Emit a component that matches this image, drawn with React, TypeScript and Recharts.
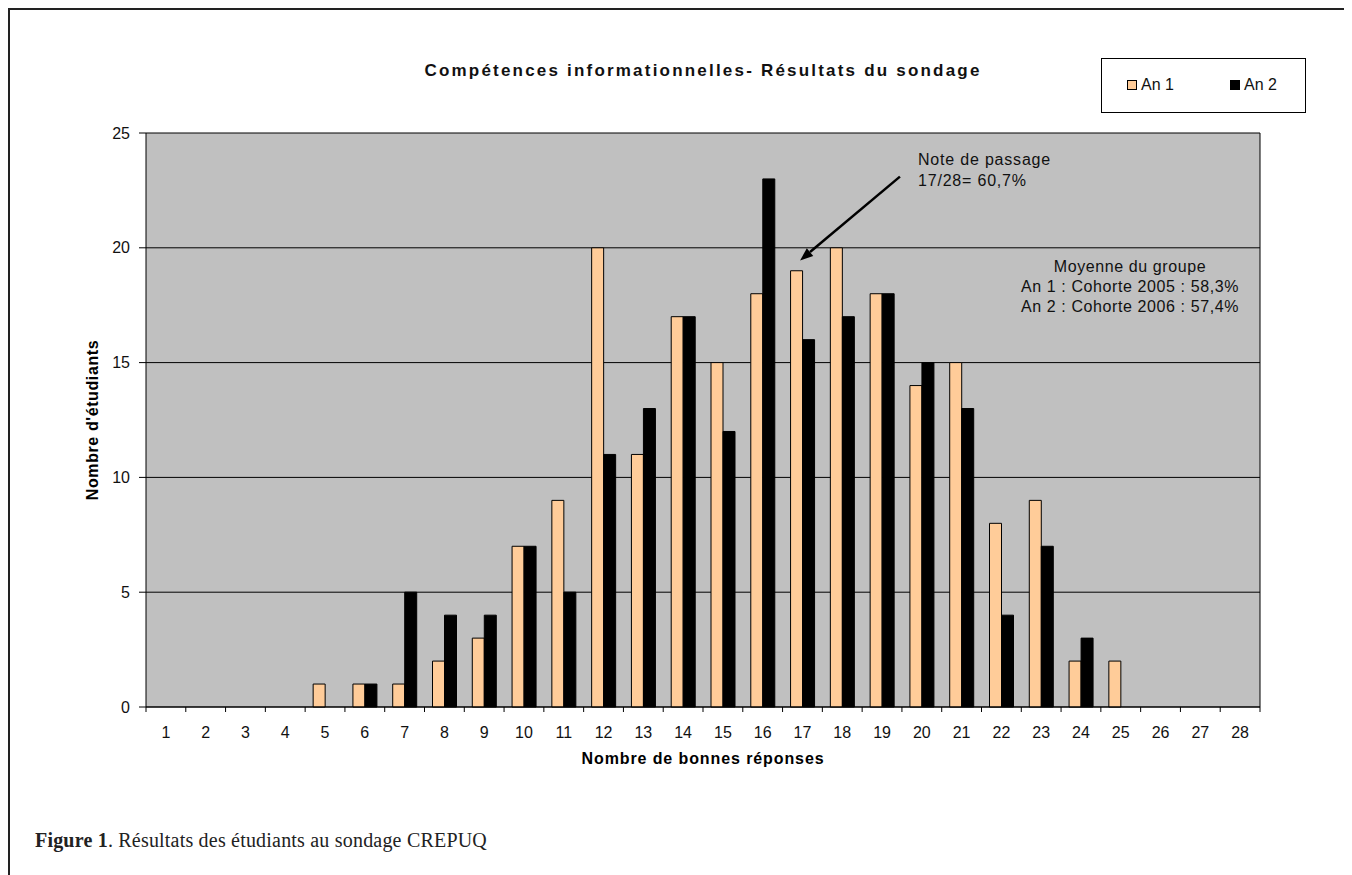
import React from 'react';
import {
  BarChart,
  Bar,
  XAxis,
  YAxis,
  CartesianGrid,
  Legend,
  ReferenceLine
} from 'recharts';

const categories = [
  '1', '2', '3', '4', '5', '6', '7', '8', '9', '10', '11', '12', '13', '14',
  '15', '16', '17', '18', '19', '20', '21', '22', '23', '24', '25', '26', '27', '28'
];
const an1 = [0, 0, 0, 0, 1, 1, 1, 2, 3, 7, 9, 20, 11, 17, 15, 18, 19, 20, 18, 14, 15, 8, 9, 2, 2, 0, 0, 0];
const an2 = [0, 0, 0, 0, 0, 1, 5, 4, 4, 7, 5, 11, 13, 17, 12, 23, 16, 17, 18, 15, 13, 4, 7, 3, 0, 0, 0, 0];
const yTicks = [0, 5, 10, 15, 20, 25];

// arrow "Note de passage" in data units (numeric helper axis, 1 unit = 1 category)
const arrowFrom = { x: 19.45, y: 23.1 };
const arrowTo = { x: 16.94, y: 19.45 };

const data = categories.map((c, i) => ({ name: c, n: Number(c), an1: an1[i], an2: an2[i] }));

const FONT = '"Liberation Sans", Arial, sans-serif';

function XTick(props: any) {
  const { x, y, payload, index } = props;
  const half = payload?.offset ?? 19.9;
  return (
    <g>
      <line x1={x - half} y1={y} x2={x - half} y2={y + 5} stroke="#000" />
      {index === categories.length - 1 && (
        <line x1={x + half} y1={y} x2={x + half} y2={y + 5} stroke="#000" />
      )}
      <text x={x} y={y + 31} textAnchor="middle" fontSize={16} fontFamily={FONT} fill="#111">
        {payload.value}
      </text>
    </g>
  );
}

function Arrow(props: any) {
  const { x1, y1, x2, y2 } = props;
  const dx = x2 - x1;
  const dy = y2 - y1;
  const len = Math.sqrt(dx * dx + dy * dy) || 1;
  const ux = dx / len;
  const uy = dy / len;
  const bx = x2 - ux * 13;
  const by = y2 - uy * 13;
  const px = -uy * 5;
  const py = ux * 5;
  return (
    <g>
      <line x1={x1} y1={y1} x2={bx} y2={by} stroke="#000" strokeWidth={2.5} />
      <polygon points={`${x2},${y2} ${bx + px},${by + py} ${bx - px},${by - py}`} fill="#000" />
    </g>
  );
}

function LegendBox() {
  const sq = (color: string) => ({
    display: 'inline-block',
    width: 10,
    height: 10,
    background: color,
    border: '1px solid #000',
    boxSizing: 'border-box' as const,
    marginRight: 4
  });
  return (
    <div
      style={{
        width: 205,
        height: 55,
        border: '1.5px solid #000',
        boxSizing: 'border-box',
        background: '#fff',
        position: 'relative',
        fontFamily: FONT,
        fontSize: 16,
        color: '#111'
      }}
    >
      <div style={{ position: 'absolute', left: 25, top: 17, display: 'flex', alignItems: 'center' }}>
        <span style={sq('#FFCC99')} />
        <span>An 1</span>
      </div>
      <div style={{ position: 'absolute', left: 128, top: 17, display: 'flex', alignItems: 'center' }}>
        <span style={sq('#000')} />
        <span>An 2</span>
      </div>
    </div>
  );
}

export default function App() {
  return (
    <div
      style={{
        width: 1343,
        height: 880,
        border: '2px solid #222',
        boxSizing: 'border-box',
        position: 'relative',
        background: '#fff'
      }}
    >
      <BarChart
        width={1320}
        height={800}
        data={data}
        margin={{ top: 123, right: 70, left: 76, bottom: 43 }}
        barSize={12}
        barGap={0}
      >
        <CartesianGrid
          fill="#C0C0C0"
          fillOpacity={1}
          stroke="#000"
          horizontal={true}
          verticalCoordinatesGenerator={({ offset }: any) => [offset.left + offset.width]}
        />
        <XAxis
          dataKey="name"
          interval={0}
          tickLine={false}
          tickSize={0}
          tickMargin={0}
          height={60}
          axisLine={{ stroke: '#000' }}
          tick={<XTick />}
          label={{
            value: 'Nombre de bonnes réponses',
            position: 'insideBottom',
            offset: 3,
            style: { fontFamily: FONT, fontWeight: 'bold', fontSize: 16, letterSpacing: 0.9, fill: '#000' }
          }}
        />
        <XAxis xAxisId="n" dataKey="n" type="number" domain={[0.5, 28.5]} allowDataOverflow hide />
        <YAxis
          domain={[0, 25]}
          ticks={yTicks}
          width={60}
          tickSize={7}
          tickMargin={9}
          axisLine={{ stroke: '#000' }}
          tickLine={{ stroke: '#000' }}
          tick={{ fontSize: 16, fontFamily: FONT, fill: '#111' }}
          label={{
            value: "Nombre d'étudiants",
            angle: -90,
            position: 'insideLeft',
            offset: 6,
            style: { textAnchor: 'middle', fontFamily: FONT, fontWeight: 'bold', fontSize: 16, letterSpacing: 0.6, fill: '#000' }
          }}
        />
        <Legend
          layout="horizontal"
          verticalAlign="middle"
          align="center"
          wrapperStyle={{ left: 1091, top: 48, width: 205, height: 55 }}
          content={() => <LegendBox />}
        />
        <Bar dataKey="an1" name="An 1" fill="#FFCC99" stroke="#000" strokeWidth={1} isAnimationActive={false} />
        <Bar dataKey="an2" name="An 2" fill="#000" stroke="#000" strokeWidth={1} isAnimationActive={false} />
        <ReferenceLine
          xAxisId="n"
          segment={[arrowFrom, arrowTo]}
          ifOverflow="visible"
          shape={(p: any) => <Arrow {...p} />}
        />
      </BarChart>

      <div
        style={{
          position: 'absolute',
          left: 693,
          top: 51,
          transform: 'translateX(-50%)',
          whiteSpace: 'nowrap',
          fontFamily: FONT,
          fontWeight: 'bold',
          fontSize: 17,
          letterSpacing: 2.2,
          color: '#111'
        }}
      >
        Compétences informationnelles- Résultats du sondage
      </div>

      <div
        style={{
          position: 'absolute',
          left: 908,
          top: 139,
          fontFamily: FONT,
          fontSize: 16,
          letterSpacing: 0.8,
          lineHeight: '21px',
          color: '#111',
          whiteSpace: 'nowrap'
        }}
      >
        <div>Note de passage</div>
        <div>17/28= 60,7%</div>
      </div>

      <div
        style={{
          position: 'absolute',
          left: 1120,
          top: 247,
          transform: 'translateX(-50%)',
          textAlign: 'center',
          fontFamily: FONT,
          fontSize: 16,
          letterSpacing: 0.6,
          lineHeight: '20px',
          color: '#111',
          whiteSpace: 'nowrap'
        }}
      >
        <div>Moyenne du groupe</div>
        <div>An 1 : Cohorte 2005 : 58,3%</div>
        <div>An 2 : Cohorte 2006 : 57,4%</div>
      </div>

      <div
        style={{
          position: 'absolute',
          left: 25,
          top: 819,
          fontFamily: '"Liberation Serif", "Times New Roman", serif',
          fontSize: 20,
          letterSpacing: 0.2,
          color: '#222',
          whiteSpace: 'nowrap'
        }}
      >
        <b>Figure 1</b>. Résultats des étudiants au sondage CREPUQ
      </div>
    </div>
  );
}
